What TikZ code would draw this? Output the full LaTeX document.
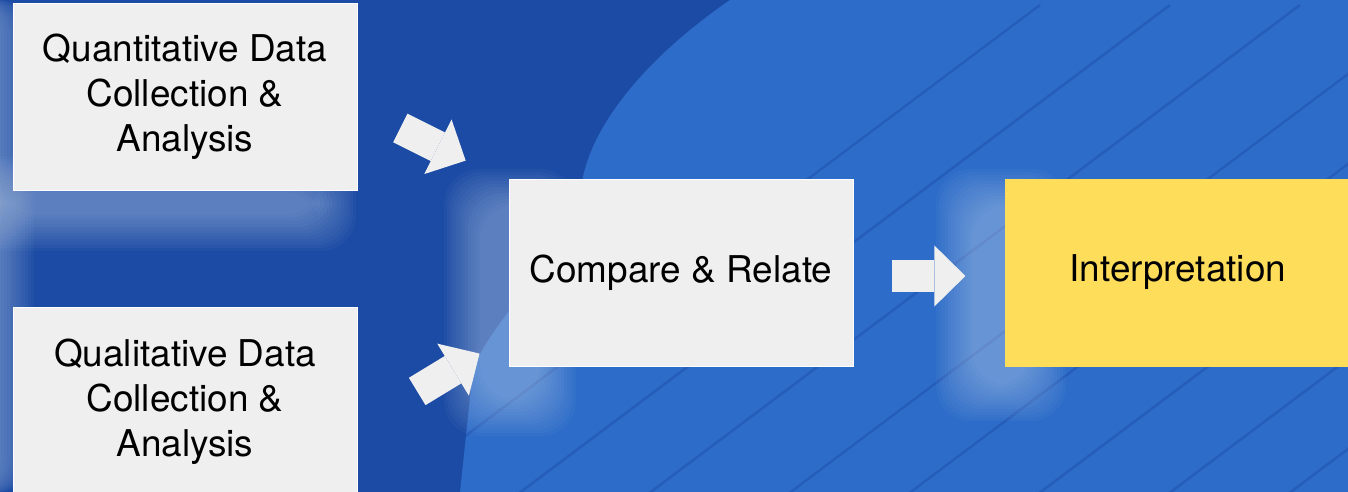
\documentclass[tikz,border=0pt]{standalone}
\usepackage{fontspec}
\setmainfont{TeX Gyre Heros}
\usetikzlibrary{arrows.meta,positioning,calc}
\definecolor{deepblue}{HTML}{1C4BA5}
\definecolor{midblue}{HTML}{2D6CC8}
\definecolor{streak}{HTML}{1A47A6}
\definecolor{boxgray}{HTML}{EFEFEF}
\definecolor{sunny}{HTML}{FEDD5B}
\definecolor{haze}{HTML}{D6E4F7}
\tikzset{
  blk/.style={draw=white, line width=.5pt, fill=boxgray, align=center, inner sep=0pt,
    minimum width=6.88cm, minimum height=3.74cm, font=\fontsize{21}{25.6}\selectfont},
  blky/.style={blk, fill=sunny, draw=sunny},
  fat/.style={line width=.64cm, draw=boxgray, -{Triangle[length=.62cm, width=1.22cm, line width=0pt]}},
  glow/.style={fill=haze, opacity=.035, rounded corners=20pt},
  vein/.style={draw=streak, line width=1.4pt, opacity=.4},
}

\begin{document}
\begin{tikzpicture}[x=.02cm, y=-.02cm, node distance=3.04cm]
    \useasboundingbox (0,0) rectangle (1348,492);
    \clip (0,0) rectangle (1348,492);
    % backdrop
    \fill[deepblue] (0,0) rectangle (1348,492);
    \begin{scope}
      \clip (730,0) .. controls (650,55) and (595,120) .. (583,177)
        .. controls (565,260) and (490,320) .. (473,370) -- (460,492)
        -- (1348,492) -- (1348,0) -- cycle;
      \fill[midblue] (0,0) rectangle (1348,492);
      \foreach \s in {300,430,560,700,820,950,1080,1200,1330}
        \draw[vein] (\s,560) -- ++(740,-555);
    \end{scope}
    \foreach \g in {0,3,...,36} {
      \fill[glow] (480-\g,205-\g) rectangle (540+\g,400+\g);
      \fill[glow] (972-\g,205-\g) rectangle (1030+\g,385+\g);
      \fill[glow] (0-\g,192-\g) rectangle (320+\g,215+\g);
      \fill[glow] (-30-\g,0) rectangle (-2+\g,492);
    }
    % boxes
    \node[blk] (qt) at (185,96.5) {Quantitative Data\\Collection \&\\Analysis};
    \node[blk, below=2.34cm of qt] (qb) {Qualitative Data\\Collection \&\\Analysis};
    \node[blk] (cr) at (681,272.5) {Compare \& Relate};
    \node[blky, right=of cr] (ie) {Interpretation};
    % arrows
    \draw[fat, shorten <=.96cm, shorten >=.96cm] ([yshift=-.2cm]qt.east) -- ([yshift=-.07cm]cr.north west);
    \draw[fat, shorten <=1.4cm, shorten >=.68cm] ([yshift=-.53cm]qb.east) -- ([yshift=.61cm]cr.south west);
    \draw[fat, shorten <=.78cm, shorten >=.8cm] ([yshift=-.07cm]cr.east) -- ([yshift=-.07cm]ie.west);
\end{tikzpicture}
\end{document}
